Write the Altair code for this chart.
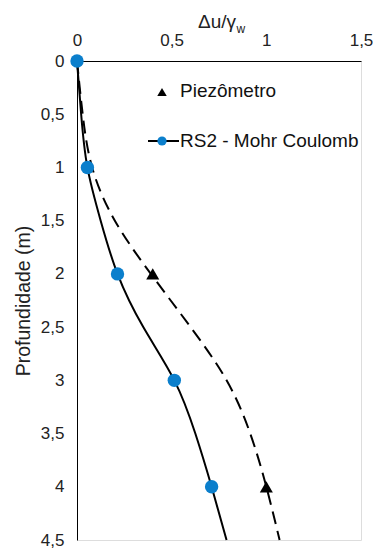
import altair as alt
import pandas as pd

depth = [0, 0.5, 1, 1.5, 2, 2.5, 3, 3.5, 4, 4.5]
rs2_curve = [0, 0.022, 0.055, 0.125, 0.214, 0.35, 0.514, 0.625, 0.711, 0.79]
piezo_curve = [0, 0.03, 0.08, 0.2, 0.39, 0.6, 0.79, 0.915, 1.0, 1.07]

rs2_depth = [0, 1, 2, 3, 4]
rs2_pts = [0, 0.055, 0.214, 0.514, 0.711]

piezo_depth = [2, 4]
piezo_pts = [0.40, 1.0]

x_ticks = [0, 0.5, 1, 1.5]
y_ticks = [0, 0.5, 1, 1.5, 2, 2.5, 3, 3.5, 4, 4.5]

FONT = "Liberation Sans"
BLUE = "#0b7fcc"
LABEL_EXPR = "replace(format(datum.value, '~g'), '.', ',')"

curves = pd.DataFrame({"depth": depth, "rs2": rs2_curve, "piezo": piezo_curve})
rs2_df = pd.DataFrame({"depth": rs2_depth, "v": rs2_pts})
piezo_df = pd.DataFrame({"depth": piezo_depth, "v": piezo_pts})

xscale = alt.Scale(domain=[0, 1.5], nice=False)
yscale = alt.Scale(domain=[0, 4.5], reverse=True, nice=False)

xaxis = alt.Axis(orient="top", values=x_ticks, ticks=False, grid=False,
                 labelExpr=LABEL_EXPR, labelFont=FONT,
                 labelFontSize=17, labelColor="#222", labelPadding=12,
                 domainColor="#000", domainWidth=1, title=None, labelFlush=False)
yaxis = alt.Axis(values=y_ticks, ticks=False, grid=False,
                 labelExpr=LABEL_EXPR, labelFont=FONT,
                 labelFontSize=17, labelColor="#222", labelPadding=13,
                 domainColor="#000", domainWidth=1, title="Profundidade (m)",
                 titleFont=FONT, titleFontSize=19.5, titleFontWeight="normal",
                 titleColor="#222", titlePadding=7, labelFlush=False)

base = alt.Chart(curves)

solid = base.mark_line(color="black", strokeWidth=2, interpolate="natural").encode(
    x=alt.X("rs2:Q", scale=xscale, axis=xaxis),
    y=alt.Y("depth:Q", scale=yscale, axis=yaxis),
    order="depth:Q",
)
dashed = base.mark_line(color="black", strokeWidth=2, strokeDash=[13, 7],
                        interpolate="natural").encode(
    x=alt.X("piezo:Q", scale=xscale),
    y=alt.Y("depth:Q", scale=yscale),
    order="depth:Q",
)
blue_pts = alt.Chart(rs2_df).mark_point(filled=True, opacity=1, color=BLUE, size=180).encode(
    x=alt.X("v:Q", scale=xscale),
    y=alt.Y("depth:Q", scale=yscale),
)
tri_pts = alt.Chart(piezo_df).mark_point(filled=True, opacity=1, color="black",
                                         shape="triangle-up", size=170).encode(
    x=alt.X("v:Q", scale=xscale),
    y=alt.Y("depth:Q", scale=yscale),
)

# Title Δu/γw (with subscript w)
title_main = alt.Chart(pd.DataFrame({"t": ["Δu/γ"]})).mark_text(
    font=FONT, fontSize=19, color="#222", align="right", baseline="middle"
).encode(x=alt.value(159), y=alt.value(-39), text="t:N")
title_sub = alt.Chart(pd.DataFrame({"t": ["w"]})).mark_text(
    font=FONT, fontSize=12, color="#222", align="left", baseline="middle"
).encode(x=alt.value(159.5), y=alt.value(-32), text="t:N")

# Legend
leg_labels = ["Piezômetro", "RS2 - Mohr Coulomb"]
leg1_sym = alt.Chart(pd.DataFrame({"a": [0]})).mark_point(
    filled=True, opacity=1, color="black", shape="triangle-up", size=90
).encode(x=alt.value(85), y=alt.value(31))
leg1_txt = alt.Chart(pd.DataFrame({"t": [leg_labels[0]]})).mark_text(
    font=FONT, fontSize=19, color="#111", align="left", baseline="middle"
).encode(x=alt.value(103), y=alt.value(30), text="t:N")
leg2_line = alt.Chart(pd.DataFrame({"a": [0]})).mark_rule(color="black", strokeWidth=2).encode(
    x=alt.value(71), x2=alt.value(102), y=alt.value(80))
leg2_dot = alt.Chart(pd.DataFrame({"a": [0]})).mark_point(
    filled=True, opacity=1, color=BLUE, size=85
).encode(x=alt.value(85), y=alt.value(80))
leg2_txt = alt.Chart(pd.DataFrame({"t": [leg_labels[1]]})).mark_text(
    font=FONT, fontSize=19, color="#111", align="left", baseline="middle"
).encode(x=alt.value(103), y=alt.value(80), text="t:N")

chart = alt.layer(
    solid, dashed, blue_pts, tri_pts, title_main, title_sub,
    leg1_sym, leg1_txt, leg2_line, leg2_dot, leg2_txt
).properties(
    width=284, height=479,
    autosize=alt.AutoSizeParams(type="none"),
    padding={"left": 69, "top": 53, "right": 12, "bottom": 8},
).configure_view(stroke="#8a8a8a", strokeWidth=1.5).configure(background="white")

chart.save("out.html", embed_options={"renderer": "svg", "actions": False})
